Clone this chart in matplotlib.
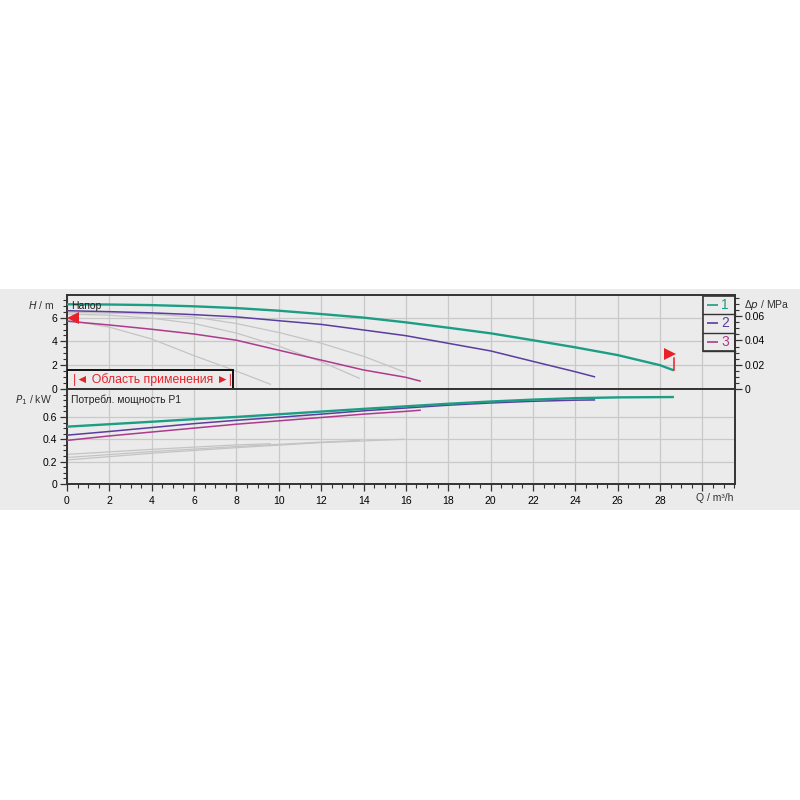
import numpy as np
import matplotlib
matplotlib.use('Agg')
import matplotlib.pyplot as plt
from matplotlib.patches import Rectangle
from matplotlib.ticker import MultipleLocator

plt.rcParams['font.family'] = ['Liberation Sans', 'DejaVu Sans']

# ---------------- data ----------------
# head curves H (m) vs flow Q (m3/h)
q1 = [0, 2, 4, 6, 8, 10, 12, 14, 16, 18, 20, 22, 24, 26, 28, 28.6]
h1 = [7.12, 7.1, 7.05, 6.95, 6.8, 6.58, 6.3, 6.0, 5.6, 5.15, 4.68, 4.1, 3.5, 2.85, 2.0, 1.6]
q2 = [0, 2, 4, 6, 8, 10, 12, 14, 16, 18, 20, 22, 24, 24.9]
h2 = [6.58, 6.5, 6.4, 6.25, 6.06, 5.74, 5.43, 4.96, 4.48, 3.84, 3.2, 2.32, 1.45, 1.03]
q3 = [0, 2, 4, 6, 8, 10, 12, 14, 16, 16.67]
h3 = [5.7, 5.38, 5.02, 4.62, 4.1, 3.26, 2.43, 1.6, 0.98, 0.67]

# grey (other setting) head curves
qg1 = [0, 4, 6, 8, 10, 12, 14, 15.9]
hg1 = [6.45, 6.3, 6.05, 5.5, 4.75, 3.85, 2.75, 1.45]
qg2 = [0, 2, 4, 6, 8, 10, 12, 13.8]
hg2 = [6.3, 6.2, 5.95, 5.5, 4.7, 3.6, 2.3, 0.9]
qg3 = [0, 2, 4, 6, 8, 9.6]
hg3 = [5.8, 5.2, 4.2, 2.8, 1.5, 0.4]

# power curves P1 (kW)
pq1 = [0, 2, 4, 6, 8, 10, 12, 14, 16, 18, 20, 22, 24, 26, 28.6]
p1 = [0.513, 0.535, 0.557, 0.58, 0.60, 0.624, 0.648, 0.672, 0.695, 0.718, 0.738, 0.755, 0.768, 0.775, 0.778]
pq2 = [0, 2, 4, 6, 8, 10, 12, 14, 16, 18, 20, 22, 24, 24.9]
p2 = [0.437, 0.47, 0.505, 0.54, 0.57, 0.597, 0.625, 0.655, 0.68, 0.705, 0.725, 0.74, 0.75, 0.752]
pq3 = [0, 2, 4, 6, 8, 10, 12, 14, 16, 16.67]
p3 = [0.39, 0.43, 0.465, 0.50, 0.535, 0.565, 0.595, 0.625, 0.65, 0.66]

pqg1 = [0, 4, 8, 12, 15.9]
pg1 = [0.215, 0.275, 0.325, 0.37, 0.40]
pqg2 = [0, 4, 8, 12, 13.8]
pg2 = [0.237, 0.29, 0.335, 0.375, 0.39]
pqg3 = [0, 4, 8, 9.6]
pg3 = [0.265, 0.31, 0.35, 0.36]

x_ticks = list(range(0, 31, 2))
x_labels = [str(v) for v in range(0, 29, 2)] + ['']
h_ticks = [0, 2, 4, 6]
p_ticks = [0, 0.2, 0.4, 0.6]
dp_ticks = [0, 0.02, 0.04, 0.06]
legend_labels = ['1', '2', '3']

# ---------------- style ----------------
C1, C2, C3 = '#1c9e84', '#5a3d9e', '#ad3a8c'
CG = '#c4c4c4'
BG = '#ebebeb'
GRID = '#c9c9c9'
SP = '#333333'
RED = '#e8202a'
FS = 7.5

W = 800.0
def fx(px): return px / W
def fy(py): return 1 - py / W

fig = plt.figure(figsize=(8, 8), dpi=100, facecolor='white')
fig.patches.append(Rectangle((0, fy(510)), 1, (510 - 289) / W, transform=fig.transFigure,
                             facecolor=BG, edgecolor='none', zorder=-10))

XMAX = (735 - 67) / 21.18
HMAX = 7.9
PMAX = 0.85

axH = fig.add_axes([fx(67), fy(389), (735 - 67) / W, (389 - 295) / W])
axP = fig.add_axes([fx(67), fy(484), (735 - 67) / W, (484 - 389) / W])

for ax in (axH, axP):
    ax.set_facecolor(BG)
    ax.set_xlim(0, XMAX)
    for s in ax.spines.values():
        s.set_color(SP)
        s.set_linewidth(1.4)
    ax.set_xticks(x_ticks)
    ax.xaxis.set_minor_locator(MultipleLocator(0.5))
    ax.grid(True, which='major', color=GRID, linewidth=0.9, zorder=0)
    ax.set_axisbelow(True)

# upper panel
axH.set_ylim(0, HMAX)
axH.set_yticks(h_ticks)
axH.set_yticklabels([str(v) for v in h_ticks])
axH.yaxis.set_minor_locator(MultipleLocator(0.5))
axH.tick_params(axis='x', which='both', length=0, labelbottom=False)
axH.tick_params(axis='y', which='major', direction='out', length=5, width=0.9, color=SP,
                labelsize=FS, pad=2)
axH.tick_params(axis='y', which='minor', direction='out', length=3, width=0.8, color=SP)

axH.plot(qg1, hg1, color=CG, lw=0.9, zorder=2)
axH.plot(qg2, hg2, color=CG, lw=0.9, zorder=2)
axH.plot(qg3, hg3, color=CG, lw=0.9, zorder=2)
axH.plot(q3, h3, color=C3, lw=1.1, zorder=3)
axH.plot(q2, h2, color=C2, lw=1.1, zorder=3)
axH.plot(q1, h1, color=C1, lw=1.7, zorder=4)

# operating range markers
axH.plot([0.28], [5.95], marker='<', color=RED, markersize=9, clip_on=False, zorder=6,
         markeredgewidth=0)
axH.plot([q1[-1] + 0.05, q1[-1] + 0.05], [h1[-1], h1[-1] + 1.0], color=RED, lw=1.1, zorder=6)
axH.plot([q1[-1] - 0.15], [h1[-1] + 1.3], marker='>', color=RED, markersize=8, zorder=6,
         markeredgewidth=0)

axH.text(0.2, 7.0, 'Напор', fontsize=FS, color='#222222', va='center', ha='left', zorder=7)

# application range box
axH.add_patch(Rectangle((0, 0), (233 - 67) / 21.18, (389 - 370) / 11.88, facecolor=BG,
                        edgecolor='#111111', linewidth=1.4, zorder=5))
axH.text((233 - 67) / 21.18 / 2 + 0.1, (389 - 379.5) / 11.88, '|◄ Область применения ►|',
         fontsize=8.8, color=RED, ha='center', va='center', zorder=6)

# legend box
lx0 = (703 - 67) / 21.18
row_edges = [(389 - 296) / 11.88, (389 - 314) / 11.88, (389 - 333) / 11.88, (389 - 351) / 11.88]
axH.add_patch(Rectangle((lx0, row_edges[3]), XMAX - lx0, row_edges[0] - row_edges[3],
                        facecolor=BG, edgecolor=SP, linewidth=1.2, zorder=5, clip_on=False))
for i, (lab, col) in enumerate(zip(legend_labels, [C1, C2, C3])):
    axH.plot([lx0, XMAX], [row_edges[i + 1]] * 2, color=SP, lw=1.0, zorder=6, clip_on=False)
    yc = (row_edges[i] + row_edges[i + 1]) / 2
    axH.plot([(707 - 67) / 21.18, (718 - 67) / 21.18], [yc, yc], color=col, lw=1.2, zorder=7,
             clip_on=False, solid_capstyle='butt')
    axH.text((721 - 67) / 21.18, yc, lab, color=col, fontsize=10, va='center', ha='left',
             zorder=7)

# right Δp axis
axR = axH.twinx()
axR.set_ylim(0, HMAX * 0.00981)
axR.set_yticks(dp_ticks)
axR.set_yticklabels(['0', '0.02', '0.04', '0.06'])
axR.yaxis.set_minor_locator(MultipleLocator(0.005))
axR.tick_params(axis='y', which='major', direction='out', length=5, width=0.9, color=SP,
                labelsize=FS, pad=2)
axR.tick_params(axis='y', which='minor', direction='out', length=3, width=0.8, color=SP)
for s in axR.spines.values():
    s.set_visible(False)
axR.spines['right'].set_visible(True)
axR.spines['right'].set_color(SP)
axR.spines['right'].set_linewidth(1.4)

# lower panel
axP.set_ylim(0, PMAX)
axP.set_yticks(p_ticks)
axP.set_yticklabels(['0', '0.2', '0.4', '0.6'])
axP.yaxis.set_minor_locator(MultipleLocator(0.05))
axP.set_xticklabels(x_labels)
axP.tick_params(axis='y', which='major', direction='out', length=5, width=0.9, color=SP,
                labelsize=FS, pad=2)
axP.tick_params(axis='y', which='minor', direction='out', length=3, width=0.8, color=SP)
axP.tick_params(axis='x', which='major', direction='out', length=5, width=0.9, color=SP,
                labelsize=FS, pad=4)
axP.tick_params(axis='x', which='minor', direction='out', length=3, width=0.8, color=SP)

axP.plot(pqg1, pg1, color=CG, lw=0.9, zorder=2)
axP.plot(pqg2, pg2, color=CG, lw=0.9, zorder=2)
axP.plot(pqg3, pg3, color=CG, lw=0.9, zorder=2)
axP.plot(pq3, p3, color=C3, lw=1.1, zorder=3)
axP.plot(pq2, p2, color=C2, lw=1.1, zorder=3)
axP.plot(pq1, p1, color=C1, lw=1.7, zorder=4)

axP.text(0.2, 0.75, 'Потребл. мощность P1', fontsize=FS, color='#222222', va='center',
         ha='left', zorder=7)

# axis unit labels
fig.text(fx(54), fy(305), '$H$ / m', fontsize=FS, ha='right', va='center', color='#333333')
fig.text(fx(52), fy(400), '$P_1$ / kW', fontsize=FS, ha='right', va='center', color='#333333')
fig.text(fx(744), fy(305), 'Δ$p$ / MPa', fontsize=FS, ha='left', va='center', color='#333333')
fig.text(fx(733), fy(498), 'Q / m³/h', fontsize=FS, ha='right', va='center', color='#333333')

fig.savefig('out.png', dpi=100, facecolor='white')
